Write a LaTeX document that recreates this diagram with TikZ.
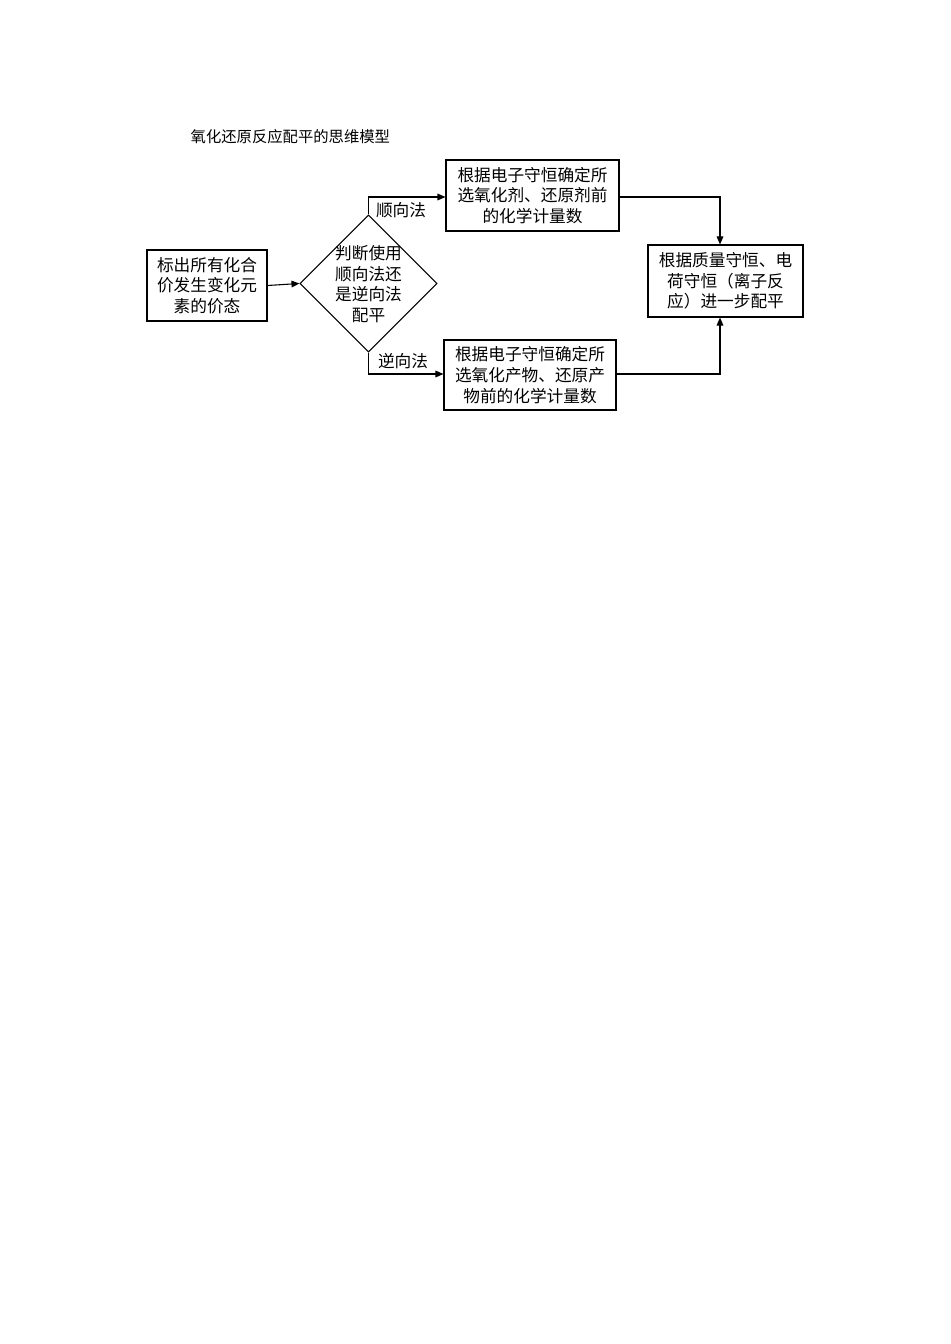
\documentclass[tikz,border=0pt]{standalone}
\usepackage{fontspec}
\setmainfont{Noto Sans CJK SC}
\newfontfamily\cjkb{Noto Sans CJK SC}
\usetikzlibrary{shapes.geometric,arrows.meta}
\begin{document}
\begin{tikzpicture}[x=0.75pt,y=-0.75pt,
  box/.style={draw,thick,inner sep=0pt,align=center,font=\fontsize{12.5pt}{15.5pt}\selectfont},
  arr/.style={-{Triangle[length=6pt,width=5pt]},thick},
  lab/.style={font=\fontsize{12.5pt}{15pt}\selectfont}]
\useasboundingbox (0,0) rectangle (950,1344);
\node[anchor=west,font=\fontsize{11.5pt}{14pt}\selectfont] (title) at (186,137) {氧化还原反应配平的思维模型};
\node[box,minimum width=120*0.75pt,minimum height=71*0.75pt] (b1) at (207,285.5) {标出所有化合\\价发生变化元\\素的价态};
\node[draw,thick,diamond,minimum width=137*0.75pt,minimum height=137*0.75pt,inner sep=0pt] (d) at (368.5,283.5) {};
\node[align=center,font=\fontsize{12.5pt}{15.5pt}\selectfont] (dt) at (368.5,284) {判断使用\\顺向法还\\是逆向法\\配平};
\node[box,minimum width=173*0.75pt,minimum height=71*0.75pt] (b2) at (532.5,195.5) {根据电子守恒确定所\\选氧化剂、还原剂前\\的化学计量数};
\node[box,minimum width=172*0.75pt,minimum height=70*0.75pt] (b3) at (530,375) {根据电子守恒确定所\\选氧化产物、还原产\\物前的化学计量数};
\node[box,minimum width=155*0.75pt,minimum height=72*0.75pt] (b4) at (725.5,281) {根据质量守恒、电\\荷守恒（离子反\\应）进一步配平};
\coordinate (c1) at (368.5,197);
\coordinate (c2) at (368.5,374);
\coordinate (c3) at (720,197);
\coordinate (c4) at (720,374);
\draw[arr] (b1.east) -- (d.west);
\draw[arr] (d.north) -- (c1) -- (b2.west |- c1);
\draw[arr] (d.south) -- (c2) -- (b3.west |- c2);
\draw[arr] (b2.east |- c3) -- (c3) -- (c3 |- b4.north);
\draw[arr] (b3.east |- c4) -- (c4) -- (c4 |- b4.south);
\node[lab] (l1) at (401,210) {顺向法};
\node[lab] (l2) at (403,361) {逆向法};
\end{tikzpicture}
\end{document}
